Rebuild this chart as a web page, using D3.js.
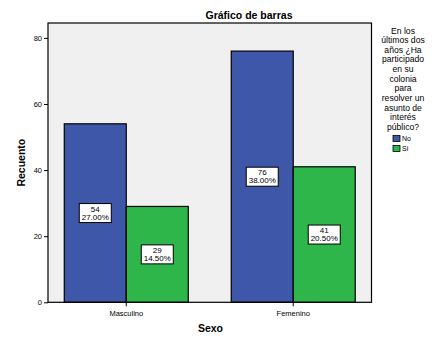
<!DOCTYPE html>
<html>
<head>
<meta charset="utf-8">
<script src="https://cdn.jsdelivr.net/npm/d3@7"></script>
<style>
  html, body { margin: 0; padding: 0; background: #fff; }
  svg { display: block; font-family: Arial, "Liberation Sans", sans-serif; }
</style>
</head>
<body>
<svg id="chart" width="438" height="339"></svg>
<script>
// Survey counts by sex and answer
const categories = ["Masculino", "Femenino"];
const seriesNames = ["No", "Si"];
const noCounts = [54, 76];
const siCounts = [29, 41];
const noPercents = ["27.00%", "38.00%"];
const siPercents = ["14.50%", "20.50%"];
const yTicks = [0, 20, 40, 60, 80];
const legendTitle = ["En los", "últimos dos", "años ¿Ha", "participado", "en su", "colonia", "para", "resolver un", "asunto de", "interés", "público?"];

const colors = { No: "#3f57a9", Si: "#2fb64b" };

const svg = d3.select("#chart");
const plot = { left: 48, top: 23, right: 371.5, bottom: 302.3 };

const x = d3.scaleBand().domain(categories)
  .range([plot.left, plot.right]).paddingInner(0.2575).paddingOuter(0.0975);
const xSub = d3.scaleBand().domain(seriesNames).range([0, x.bandwidth()]);
const y = d3.scaleLinear().domain([0, 84.5]).range([plot.bottom, plot.top]);

// Plot background
svg.append("rect")
  .attr("x", plot.left).attr("y", plot.top)
  .attr("width", plot.right - plot.left).attr("height", plot.bottom - plot.top)
  .attr("fill", "#f0f0f0");

const rows = categories.map((c, i) => ({
  cat: c,
  values: [
    { key: "No", value: noCounts[i], pct: noPercents[i] },
    { key: "Si", value: siCounts[i], pct: siPercents[i] }
  ]
}));

const groups = svg.selectAll("g.grp").data(rows).join("g")
  .attr("class", "grp")
  .attr("transform", d => `translate(${x(d.cat)},0)`);

groups.selectAll("rect").data(d => d.values).join("rect")
  .attr("x", d => xSub(d.key))
  .attr("y", d => y(d.value))
  .attr("width", xSub.bandwidth())
  .attr("height", d => y(0) - y(d.value))
  .attr("fill", d => colors[d.key])
  .attr("stroke", "#000")
  .attr("stroke-width", 1.2);

// Value labels in the middle of each bar
const lbl = groups.selectAll("g.lbl").data(d => d.values).join("g")
  .attr("class", "lbl")
  .attr("transform", d => `translate(${xSub(d.key) + xSub.bandwidth() / 2},${(y(d.value) + y(0)) / 2})`);
lbl.append("rect")
  .attr("x", -16).attr("y", -9.5).attr("width", 32).attr("height", 19)
  .attr("fill", "#fff").attr("stroke", "#000").attr("stroke-width", 1);
lbl.append("text").attr("text-anchor", "middle").attr("y", -1.5)
  .attr("font-size", 8).text(d => d.value);
lbl.append("text").attr("text-anchor", "middle").attr("y", 6.5)
  .attr("font-size", 8).text(d => d.pct);

// Plot frame
svg.append("rect")
  .attr("x", plot.left).attr("y", plot.top)
  .attr("width", plot.right - plot.left).attr("height", plot.bottom - plot.top)
  .attr("fill", "none").attr("stroke", "#000").attr("stroke-width", 1.2);

// Axes
const yAxis = svg.append("g").attr("transform", `translate(${plot.left},0)`)
  .call(d3.axisLeft(y).tickValues(yTicks).tickSize(4).tickPadding(2));
yAxis.select(".domain").remove();
yAxis.selectAll("text").attr("font-size", 7.5).attr("fill", "#000").attr("font-family", "Arial, 'Liberation Sans', sans-serif");

const xAxis = svg.append("g").attr("transform", `translate(0,${plot.bottom})`)
  .call(d3.axisBottom(x).tickSize(4).tickPadding(4));
xAxis.select(".domain").remove();
xAxis.selectAll("text").attr("font-size", 7.5).attr("fill", "#000").attr("font-family", "Arial, 'Liberation Sans', sans-serif");

// Titles
svg.append("text").attr("x", 249).attr("y", 18.5).attr("text-anchor", "middle")
  .attr("font-size", 10.5).attr("font-weight", "bold").text("Gráfico de barras");
svg.append("text").attr("x", 210.5).attr("y", 332).attr("text-anchor", "middle")
  .attr("font-size", 10.5).attr("font-weight", "bold").text("Sexo");
svg.append("text").attr("transform", `translate(24.5,${(plot.top + plot.bottom) / 2}) rotate(-90)`)
  .attr("text-anchor", "middle").attr("font-size", 10.5).attr("font-weight", "bold").text("Recuento");

// Legend
const legend = svg.append("g");
legend.selectAll("text.lt").data(legendTitle).join("text")
  .attr("class", "lt")
  .attr("x", 403).attr("y", (d, i) => 33.5 + i * 9.65)
  .attr("text-anchor", "middle").attr("font-size", 8.6).text(d => d);
const items = legend.selectAll("g.item").data(seriesNames).join("g")
  .attr("class", "item")
  .attr("transform", (d, i) => `translate(393,${135.5 + i * 10})`);
items.append("rect").attr("width", 7).attr("height", 6)
  .attr("fill", d => colors[d]).attr("stroke", "#000").attr("stroke-width", 0.8);
items.append("text").attr("x", 9).attr("y", 5.5).attr("font-size", 7).text(d => d);
</script>
</body>
</html>
